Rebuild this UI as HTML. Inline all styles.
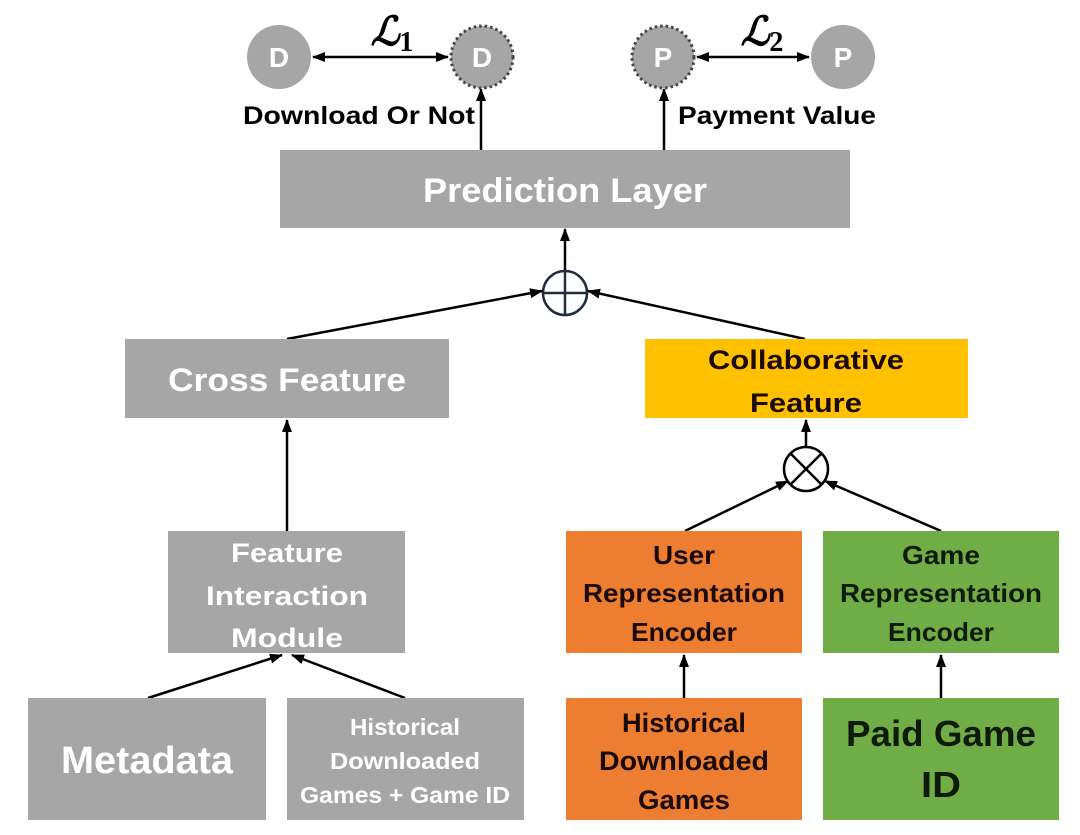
<!DOCTYPE html>
<html><head><meta charset="utf-8"><style>
html,body{margin:0;padding:0;background:#fff;}
svg{display:block;}
text{font-family:"Liberation Sans",sans-serif;font-weight:bold;text-anchor:middle;}
</style></head><body>
<svg width="1080" height="835" viewBox="0 0 1080 835" xmlns="http://www.w3.org/2000/svg">
<defs>
<marker id="a" markerWidth="13" markerHeight="12" refX="12" refY="6" orient="auto" markerUnits="userSpaceOnUse">
<path d="M0,1 L13,6 L0,11 Z" fill="#000"/></marker>
<marker id="b" markerWidth="13" markerHeight="12" refX="1" refY="6" orient="auto" markerUnits="userSpaceOnUse">
<path d="M13,1 L0,6 L13,11 Z" fill="#000"/></marker>
</defs>
<rect width="1080" height="835" fill="#fff"/>
<circle cx="279" cy="57" r="32" fill="#a6a6a6"/>
<text x="279" y="67" font-size="28" fill="#fff">D</text>
<circle cx="482" cy="57" r="31" fill="#a6a6a6" stroke="#444" stroke-width="3" stroke-dasharray="2.5 3"/>
<text x="482" y="67" font-size="28" fill="#fff">D</text>
<circle cx="663" cy="57" r="31" fill="#a6a6a6" stroke="#444" stroke-width="3" stroke-dasharray="2.5 3"/>
<text x="663" y="67" font-size="28" fill="#fff">P</text>
<circle cx="843" cy="57" r="32" fill="#a6a6a6"/>
<text x="843" y="67" font-size="28" fill="#fff">P</text>
<line x1="313" y1="57" x2="448" y2="57" stroke="#000" stroke-width="2.5" marker-start="url(#b)" marker-end="url(#a)"/>
<line x1="697" y1="57" x2="809" y2="57" stroke="#000" stroke-width="2.5" marker-start="url(#b)" marker-end="url(#a)"/>
<text x="392" y="45" font-size="40" font-style="italic" font-weight="normal" style="font-family:'Liberation Serif',serif">ℒ<tspan font-size="28" dy="6" font-style="normal">1</tspan></text>
<text x="762" y="45" font-size="40" font-style="italic" font-weight="normal" style="font-family:'Liberation Serif',serif">ℒ<tspan font-size="28" dy="6" font-style="normal">2</tspan></text>
<text x="359" y="124" font-size="25" fill="#000" textLength="232" lengthAdjust="spacingAndGlyphs">Download Or Not</text>
<text x="777" y="124" font-size="25" fill="#000" textLength="198" lengthAdjust="spacingAndGlyphs">Payment Value</text>
<line x1="481" y1="150" x2="481" y2="89" stroke="#000" stroke-width="2.5" marker-end="url(#a)"/>
<line x1="664" y1="150" x2="664" y2="89" stroke="#000" stroke-width="2.5" marker-end="url(#a)"/>
<rect x="280" y="150" width="570" height="78" fill="#a6a6a6"/>
<text x="565" y="202" font-size="34" fill="#fff" textLength="284" lengthAdjust="spacingAndGlyphs">Prediction Layer</text>
<line x1="565" y1="271" x2="565" y2="229" stroke="#000" stroke-width="2.5" marker-end="url(#a)"/>
<circle cx="565" cy="293" r="22" fill="none" stroke="#1f2d3d" stroke-width="2.5"/>
<line x1="543" y1="293" x2="587" y2="293" stroke="#1f2d3d" stroke-width="2.5"/>
<line x1="565" y1="271" x2="565" y2="315" stroke="#1f2d3d" stroke-width="2.5"/>
<line x1="287" y1="339" x2="542" y2="291" stroke="#000" stroke-width="2.5" marker-end="url(#a)"/>
<line x1="805" y1="339" x2="588" y2="291" stroke="#000" stroke-width="2.5" marker-end="url(#a)"/>
<rect x="125" y="339" width="324" height="79" fill="#a6a6a6"/>
<text x="287" y="391" font-size="32" fill="#fff" textLength="238" lengthAdjust="spacingAndGlyphs">Cross Feature</text>
<rect x="645" y="339" width="323" height="79" fill="#ffc000"/>
<text x="806" y="369" font-size="27" fill="#1a0a0a" textLength="196" lengthAdjust="spacingAndGlyphs">Collaborative</text>
<text x="806" y="412" font-size="27" fill="#1a0a0a" textLength="112" lengthAdjust="spacingAndGlyphs">Feature</text>
<line x1="287" y1="531" x2="287" y2="420" stroke="#000" stroke-width="2.5" marker-end="url(#a)"/>
<line x1="806" y1="447" x2="806" y2="420" stroke="#000" stroke-width="2.5" marker-end="url(#a)"/>
<circle cx="806" cy="469" r="22" fill="none" stroke="#000" stroke-width="2.5"/>
<line x1="790.5" y1="453.5" x2="821.5" y2="484.5" stroke="#000" stroke-width="2.5"/>
<line x1="821.5" y1="453.5" x2="790.5" y2="484.5" stroke="#000" stroke-width="2.5"/>
<line x1="685" y1="531" x2="788" y2="481" stroke="#000" stroke-width="2.5" marker-end="url(#a)"/>
<line x1="941" y1="531" x2="825" y2="481" stroke="#000" stroke-width="2.5" marker-end="url(#a)"/>
<rect x="168" y="531" width="237" height="122" fill="#a6a6a6"/>
<text x="287" y="562" font-size="27" fill="#fff" textLength="112" lengthAdjust="spacingAndGlyphs">Feature</text>
<text x="287" y="605" font-size="27" fill="#fff" textLength="162" lengthAdjust="spacingAndGlyphs">Interaction</text>
<text x="287" y="647" font-size="27" fill="#fff" textLength="112" lengthAdjust="spacingAndGlyphs">Module</text>
<rect x="566" y="531" width="236" height="122" fill="#ed7d31"/>
<text x="684" y="564" font-size="26" fill="#1a0a0a" textLength="62" lengthAdjust="spacingAndGlyphs">User</text>
<text x="684" y="602" font-size="26" fill="#1a0a0a" textLength="202" lengthAdjust="spacingAndGlyphs">Representation</text>
<text x="684" y="641" font-size="26" fill="#1a0a0a" textLength="106" lengthAdjust="spacingAndGlyphs">Encoder</text>
<rect x="823" y="531" width="236" height="122" fill="#70ad47"/>
<text x="941" y="564" font-size="26" fill="#0f1a0a" textLength="78" lengthAdjust="spacingAndGlyphs">Game</text>
<text x="941" y="602" font-size="26" fill="#0f1a0a" textLength="202" lengthAdjust="spacingAndGlyphs">Representation</text>
<text x="941" y="641" font-size="26" fill="#0f1a0a" textLength="106" lengthAdjust="spacingAndGlyphs">Encoder</text>
<line x1="148" y1="698" x2="282" y2="655" stroke="#000" stroke-width="2.5" marker-end="url(#a)"/>
<line x1="405" y1="698" x2="292" y2="655" stroke="#000" stroke-width="2.5" marker-end="url(#a)"/>
<line x1="684" y1="698" x2="684" y2="655" stroke="#000" stroke-width="2.5" marker-end="url(#a)"/>
<line x1="941" y1="698" x2="941" y2="655" stroke="#000" stroke-width="2.5" marker-end="url(#a)"/>
<rect x="28" y="698" width="238" height="122" fill="#a6a6a6"/>
<text x="147" y="773" font-size="38" fill="#fff" textLength="172" lengthAdjust="spacingAndGlyphs">Metadata</text>
<rect x="287" y="698" width="237" height="122" fill="#a6a6a6"/>
<text x="405" y="735" font-size="23" fill="#fff" textLength="110" lengthAdjust="spacingAndGlyphs">Historical</text>
<text x="405" y="769" font-size="23" fill="#fff" textLength="150" lengthAdjust="spacingAndGlyphs">Downloaded</text>
<text x="405" y="803" font-size="23" fill="#fff" textLength="210" lengthAdjust="spacingAndGlyphs">Games + Game ID</text>
<rect x="566" y="698" width="236" height="122" fill="#ed7d31"/>
<text x="684" y="732" font-size="27" fill="#1a0a0a" textLength="124" lengthAdjust="spacingAndGlyphs">Historical</text>
<text x="684" y="770" font-size="27" fill="#1a0a0a" textLength="170" lengthAdjust="spacingAndGlyphs">Downloaded</text>
<text x="684" y="809" font-size="27" fill="#1a0a0a" textLength="92" lengthAdjust="spacingAndGlyphs">Games</text>
<rect x="823" y="698" width="236" height="122" fill="#70ad47"/>
<text x="941" y="746" font-size="36" fill="#0f1a0a" textLength="190" lengthAdjust="spacingAndGlyphs">Paid Game</text>
<text x="941" y="797" font-size="36" fill="#0f1a0a" textLength="40" lengthAdjust="spacingAndGlyphs">ID</text>
</svg>
</body></html>
